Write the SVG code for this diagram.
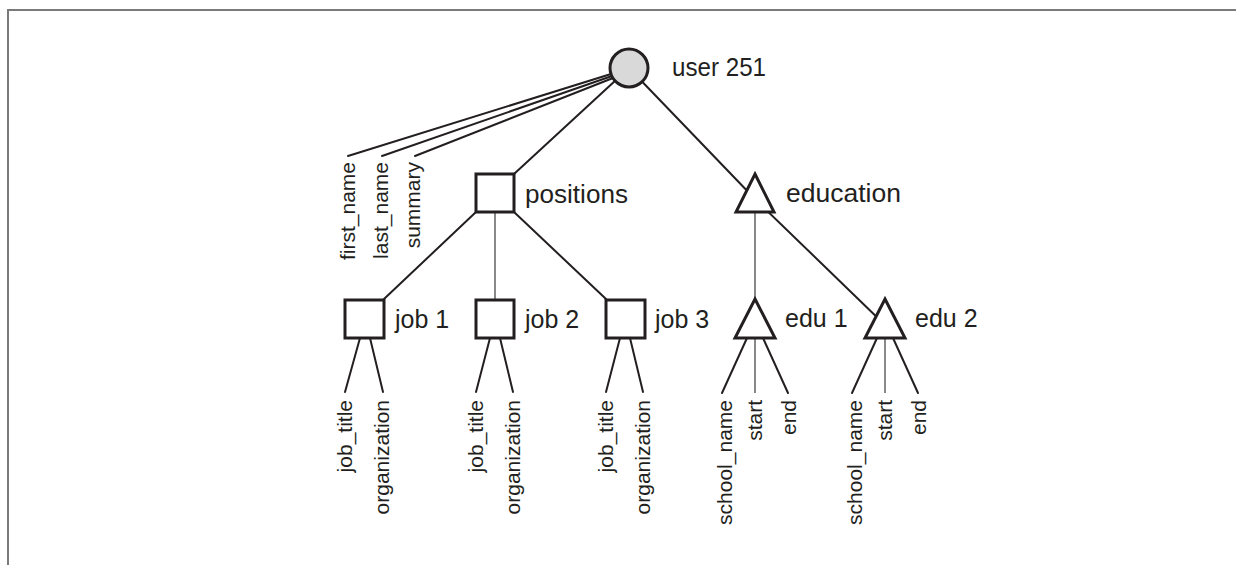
<svg xmlns="http://www.w3.org/2000/svg" width="1236" height="565" viewBox="0 0 1236 565">
<style>
.frame{fill:none;stroke:#7a7a7a;stroke-width:2}
.edge{stroke:#231f20;stroke-width:2;fill:none;stroke-linecap:round}
.edge-thin{stroke:#6b6b6b;stroke-width:1.6;fill:none}
.shape{fill:#fff;stroke:#231f20;stroke-width:3}
.root{fill:#d9d9d9;stroke:#231f20;stroke-width:3}
.lbl{font-family:"Liberation Sans",Arial,sans-serif;font-size:25px;fill:#231f20}
.attr{font-family:"Liberation Sans",Arial,sans-serif;font-size:21px;fill:#231f20;text-anchor:end}
</style>
<rect width="1236" height="565" fill="#fff"/>
<path class="frame" d="M8,565 V10 H1236"/>
<g id="connectors">
<line class="edge" x1="611" y1="74" x2="348" y2="156"/>
<line class="edge" x1="612" y1="76" x2="382" y2="156"/>
<line class="edge" x1="613" y1="78" x2="415" y2="156"/>
<line class="edge" x1="629" y1="68" x2="514" y2="174"/>
<line class="edge" x1="629" y1="68" x2="755" y2="199"/>
<line class="edge" x1="755" y1="199" x2="885" y2="325"/>
<line class="edge-thin" x1="755" y1="212" x2="755" y2="299"/>
<line class="edge" x1="476" y1="212" x2="384" y2="299"/>
<line class="edge-thin" x1="495" y1="212" x2="495" y2="299"/>
<line class="edge" x1="514" y1="212" x2="606" y2="299"/>
<line class="edge" x1="360" y1="338" x2="345" y2="392"/>
<line class="edge" x1="370" y1="338" x2="383" y2="392"/>
<line class="edge" x1="490" y1="338" x2="476" y2="392"/>
<line class="edge" x1="500" y1="338" x2="513" y2="392"/>
<line class="edge" x1="620" y1="338" x2="606" y2="392"/>
<line class="edge" x1="630" y1="338" x2="643" y2="392"/>
<line class="edge" x1="747" y1="338" x2="722" y2="393"/>
<line class="edge-thin" x1="755" y1="338" x2="755" y2="393"/>
<line class="edge" x1="763" y1="338" x2="788" y2="393"/>
<line class="edge" x1="877" y1="338" x2="852" y2="393"/>
<line class="edge-thin" x1="885" y1="338" x2="885" y2="393"/>
<line class="edge" x1="893" y1="338" x2="918" y2="393"/>
</g>
<g id="user">
<circle class="root" cx="629" cy="68" r="19"/>
<text class="lbl" x="672" y="76" textLength="94" lengthAdjust="spacingAndGlyphs">user 251</text>
<text class="attr" transform="translate(355,162) rotate(-90)">first_name</text>
<text class="attr" transform="translate(388,162) rotate(-90)">last_name</text>
<text class="attr" transform="translate(420,162) rotate(-90)">summary</text>
</g>
<g id="positions">
<rect class="shape" x="476" y="174" width="38" height="38"/>
<text class="lbl" x="525" y="203" textLength="103" lengthAdjust="spacingAndGlyphs">positions</text>
</g>
<g id="education">
<polygon class="shape" points="755,174 774,212 736,212"/>
<text class="lbl" x="786" y="202" textLength="115" lengthAdjust="spacingAndGlyphs">education</text>
</g>
<g id="job1">
<rect class="shape" x="345" y="300" width="39" height="38"/>
<text class="lbl" x="395" y="328">job 1</text>
<text class="attr" transform="translate(352,400) rotate(-90)">job_title</text>
<text class="attr" transform="translate(389,400) rotate(-90)">organization</text>
</g>
<g id="job2">
<rect class="shape" x="476" y="300" width="38" height="38"/>
<text class="lbl" x="525" y="328">job 2</text>
<text class="attr" transform="translate(483,400) rotate(-90)">job_title</text>
<text class="attr" transform="translate(520,400) rotate(-90)">organization</text>
</g>
<g id="job3">
<rect class="shape" x="606" y="300" width="39" height="38"/>
<text class="lbl" x="655" y="328">job 3</text>
<text class="attr" transform="translate(613,400) rotate(-90)">job_title</text>
<text class="attr" transform="translate(650,400) rotate(-90)">organization</text>
</g>
<g id="edu1">
<polygon class="shape" points="755,299 775,338 735,338"/>
<text class="lbl" x="785" y="327">edu 1</text>
<text class="attr" transform="translate(732,400) rotate(-90)">school_name</text>
<text class="attr" transform="translate(762,400) rotate(-90)">start</text>
<text class="attr" transform="translate(796,400) rotate(-90)">end</text>
</g>
<g id="edu2">
<polygon class="shape" points="885,299 905,338 865,338"/>
<text class="lbl" x="915" y="327">edu 2</text>
<text class="attr" transform="translate(862,400) rotate(-90)">school_name</text>
<text class="attr" transform="translate(892,400) rotate(-90)">start</text>
<text class="attr" transform="translate(926,400) rotate(-90)">end</text>
</g>
</svg>
